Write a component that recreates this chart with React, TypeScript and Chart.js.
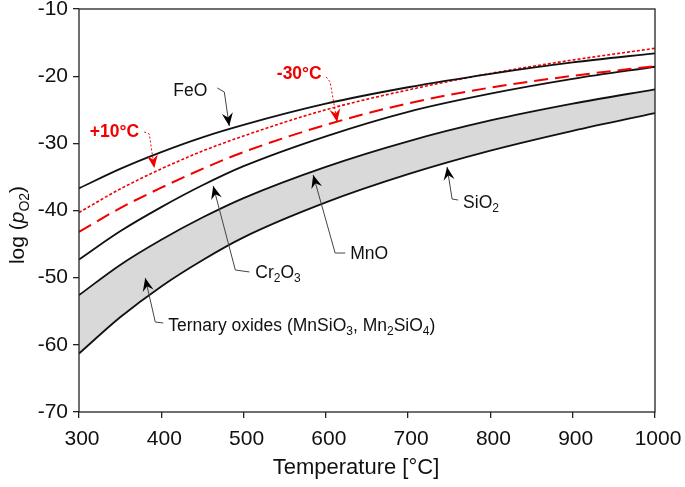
import React, { useEffect, useRef } from 'react';
import { Chart, registerables } from 'chart.js';

Chart.register(...registerables);

const FAMILY = '"Liberation Sans", Arial, Helvetica, sans-serif';

// Temperature [°C]
const temperatures = [300, 350, 400, 450, 500, 600, 700, 800, 900, 1000];
// log(pO2) equilibrium curves
const feoValues = [-36.7, -33.8, -31.3, -29.1, -27.25, -24.1, -21.65, -19.65, -17.95, -16.6];
const plus10Values = [-40.3, -36.8, -33.8, -31.15, -28.9, -25.0, -22.05, -19.6, -17.6, -15.85];
const minus30Values = [-43.2, -39.65, -36.6, -33.8, -31.3, -27.25, -24.05, -21.7, -19.95, -18.5];
const cr2o3Values = [-47.3, -43.1, -39.5, -36.25, -33.4, -28.95, -25.3, -22.6, -20.4, -18.6];
const mnoValues = [-52.6, -48.1, -44.35, -41.05, -38.15, -33.5, -29.7, -26.6, -24.1, -21.95];
const sio2Values = [-61.3, -55.9, -51.3, -47.4, -44.0, -38.8, -34.6, -31.1, -28.15, -25.5];

const xTickValues = [300, 400, 500, 600, 700, 800, 900, 1000];
const yTickValues = [-70, -60, -50, -40, -30, -20, -10];

type Part = { t: string; sub?: boolean; italic?: boolean };
type Note = {
  parts: Part[];
  at: [number, number];
  align: 'left' | 'center';
  color: string;
  bold?: boolean;
  leader: [number, number][];
  leaderColor: string;
  dotted?: boolean;
};

const notes: Note[] = [
  {
    parts: [{ t: 'FeO' }],
    at: [435.3, -22.06],
    align: 'center',
    color: '#111',
    leader: [[468.1, -21.76], [476.6, -22.36], [482.6, -27.42]],
    leaderColor: '#444',
  },
  {
    parts: [{ t: '+10°C' }],
    at: [343.0, -28.16],
    align: 'center',
    color: '#f00000',
    bold: true,
    leader: [[379.3, -28.31], [385.4, -28.61], [391.5, -33.67]],
    leaderColor: '#f00000',
    dotted: true,
  },
  {
    parts: [{ t: '-30°C' }],
    at: [567.7, -19.53],
    align: 'center',
    color: '#f00000',
    bold: true,
    leader: [[600.4, -20.12], [605.2, -20.87], [613.7, -26.82]],
    leaderColor: '#f00000',
    dotted: true,
  },
  {
    parts: [{ t: 'Cr' }, { t: '2', sub: true }, { t: 'O' }, { t: '3', sub: true }],
    at: [514.3, -49.08],
    align: 'left',
    color: '#111',
    leader: [[507.1, -49.15], [490.0, -48.86], [463.1, -36.35]],
    leaderColor: '#444',
  },
  {
    parts: [{ t: 'MnO' }],
    at: [629.5, -46.33],
    align: 'left',
    color: '#111',
    leader: [[623.5, -46.33], [611.3, -46.33], [584.6, -34.71]],
    leaderColor: '#444',
  },
  {
    parts: [{ t: 'SiO' }, { t: '2', sub: true }],
    at: [766.8, -38.73],
    align: 'left',
    color: '#111',
    leader: [[760.7, -38.44], [753.4, -38.29], [747.3, -33.52]],
    leaderColor: '#444',
  },
  {
    parts: [
      { t: 'Ternary oxides (MnSiO' },
      { t: '3', sub: true },
      { t: ', Mn' },
      { t: '2', sub: true },
      { t: 'SiO' },
      { t: '4', sub: true },
      { t: ')' },
    ],
    at: [408.5, -56.97],
    align: 'left',
    color: '#111',
    leader: [[402.4, -56.75], [392.7, -56.6], [380.5, -50.05]],
    leaderColor: '#444',
  },
];

function fontFor(size: number, bold?: boolean, italic?: boolean) {
  return `${italic ? 'italic ' : ''}${bold ? 'bold ' : ''}${size}px ${FAMILY}`;
}

function drawRich(
  ctx: CanvasRenderingContext2D,
  parts: Part[],
  x: number,
  yCenter: number,
  size: number,
  color: string,
  align: 'left' | 'center',
  bold?: boolean
) {
  const subSize = Math.round(size * 0.68);
  let total = 0;
  const widths = parts.map((p) => {
    ctx.font = fontFor(p.sub ? subSize : size, bold, p.italic);
    const w = ctx.measureText(p.t).width;
    total += w;
    return w;
  });
  let cx = align === 'center' ? x - total / 2 : x;
  const baseline = yCenter + size * 0.36;
  ctx.fillStyle = color;
  ctx.textAlign = 'left';
  ctx.textBaseline = 'alphabetic';
  parts.forEach((p, i) => {
    ctx.font = fontFor(p.sub ? subSize : size, bold, p.italic);
    ctx.fillText(p.t, cx, p.sub ? baseline + size * 0.24 : baseline);
    cx += widths[i];
  });
}

function drawArrowHead(ctx: CanvasRenderingContext2D, fx: number, fy: number, tx: number, ty: number, color: string) {
  const ang = Math.atan2(ty - fy, tx - fx);
  const len = 13;
  const half = 5.5;
  const notch = 8.5;
  ctx.save();
  ctx.translate(tx, ty);
  ctx.rotate(ang);
  ctx.beginPath();
  ctx.moveTo(0, 0);
  ctx.lineTo(-len, -half);
  ctx.lineTo(-notch, 0);
  ctx.lineTo(-len, half);
  ctx.closePath();
  ctx.fillStyle = color;
  ctx.fill();
  ctx.restore();
}

const decorPlugin = {
  id: 'decor',
  afterDatasetsDraw(chart: any) {
    const { ctx, chartArea, scales } = chart;
    const xs = scales.x;
    const ys = scales.y;
    ctx.save();
    // frame
    ctx.strokeStyle = '#222';
    ctx.lineWidth = 1.3;
    ctx.strokeRect(chartArea.left, chartArea.top, chartArea.right - chartArea.left, chartArea.bottom - chartArea.top);

    notes.forEach((n) => {
      const pts = n.leader.map(([t, v]) => [xs.getPixelForValue(t), ys.getPixelForValue(v)]);
      ctx.beginPath();
      ctx.strokeStyle = n.leaderColor;
      ctx.lineWidth = 1;
      ctx.setLineDash(n.dotted ? [2, 2] : []);
      pts.forEach(([px, py], i) => (i === 0 ? ctx.moveTo(px, py) : ctx.lineTo(px, py)));
      ctx.stroke();
      ctx.setLineDash([]);
      const a = pts[pts.length - 2];
      const b = pts[pts.length - 1];
      drawArrowHead(ctx, a[0], a[1], b[0], b[1], n.dotted ? n.leaderColor : '#000');
      drawRich(
        ctx,
        n.parts,
        xs.getPixelForValue(n.at[0]),
        ys.getPixelForValue(n.at[1]),
        17.5,
        n.color,
        n.align,
        n.bold
      );
    });

    // axis titles
    drawRich(ctx, [{ t: 'Temperature [°C]' }], 356, 466, 22, '#111', 'center');

    ctx.save();
    ctx.translate(16, 225);
    ctx.rotate(-Math.PI / 2);
    drawRich(
      ctx,
      [{ t: 'log (' }, { t: 'p', italic: true }, { t: 'O2', sub: true }, { t: ')' }],
      0,
      0,
      21,
      '#111',
      'center'
    );
    ctx.restore();
    ctx.restore();
  },
};

export default function App() {
  const ref = useRef<HTMLCanvasElement | null>(null);

  useEffect(() => {
    document.body.style.margin = '0';
    if (!ref.current) return;
    const mk = (data: number[]) => temperatures.map((t, i) => ({ x: t, y: data[i] }));
    const chart = new Chart(ref.current, {
      type: 'line',
      data: {
        datasets: [
          { label: 'FeO', data: mk(feoValues), borderColor: '#111', borderWidth: 1.8 },
          { label: '+10°C', data: mk(plus10Values), borderColor: '#f00000', borderWidth: 1.6, borderDash: [3, 2] },
          { label: '-30°C', data: mk(minus30Values), borderColor: '#f00000', borderWidth: 2, borderDash: [14, 7] },
          { label: 'Cr2O3', data: mk(cr2o3Values), borderColor: '#111', borderWidth: 1.8 },
          {
            label: 'MnO',
            data: mk(mnoValues),
            borderColor: '#111',
            borderWidth: 1.8,
            fill: '+1',
            backgroundColor: '#d9d9d9',
          },
          { label: 'SiO2', data: mk(sio2Values), borderColor: '#111', borderWidth: 1.8 },
        ] as any,
      },
      options: {
        animation: false,
        responsive: false,
        devicePixelRatio: 1,
        events: [],
        elements: {
          point: { radius: 0 },
          line: { cubicInterpolationMode: 'monotone', fill: false },
        },
        layout: { padding: { top: 9, right: 30, left: 0, bottom: 0 } },
        plugins: {
          legend: { display: false },
          tooltip: { enabled: false },
          title: { display: false },
          filler: { drawTime: 'beforeDatasetsDraw' },
        },
        scales: {
          x: {
            type: 'linear',
            min: 300,
            max: 1000,
            afterBuildTicks: (s: any) => {
              s.ticks = xTickValues.map((v) => ({ value: v }));
            },
            afterFit: (s: any) => {
              s.height = 75;
              s.paddingLeft = 0;
              s.paddingRight = 0;
            },
            border: { display: false },
            grid: { drawOnChartArea: false, drawTicks: true, tickLength: 6, color: '#222', lineWidth: 1.3 },
            ticks: {
              color: '#111',
              font: { size: 21, family: FAMILY },
              padding: 9,
              labelOffset: 3,
              maxRotation: 0,
              callback: (v: any) => String(v),
            },
          },
          y: {
            type: 'linear',
            min: -70,
            max: -10,
            afterBuildTicks: (s: any) => {
              s.ticks = yTickValues.map((v) => ({ value: v }));
            },
            afterFit: (s: any) => {
              s.width = 79;
              s.paddingTop = 0;
              s.paddingBottom = 0;
            },
            border: { display: false },
            grid: { drawOnChartArea: false, drawTicks: true, tickLength: 6, color: '#222', lineWidth: 1.3 },
            ticks: { color: '#111', font: { size: 21, family: FAMILY }, padding: 5, callback: (v: any) => String(v) },
          },
        },
      } as any,
      plugins: [decorPlugin],
    });
    return () => chart.destroy();
  }, []);

  return (
    <div style={{ width: 685, height: 487, background: '#fff' }}>
      <canvas ref={ref} width={685} height={487} />
    </div>
  );
}
